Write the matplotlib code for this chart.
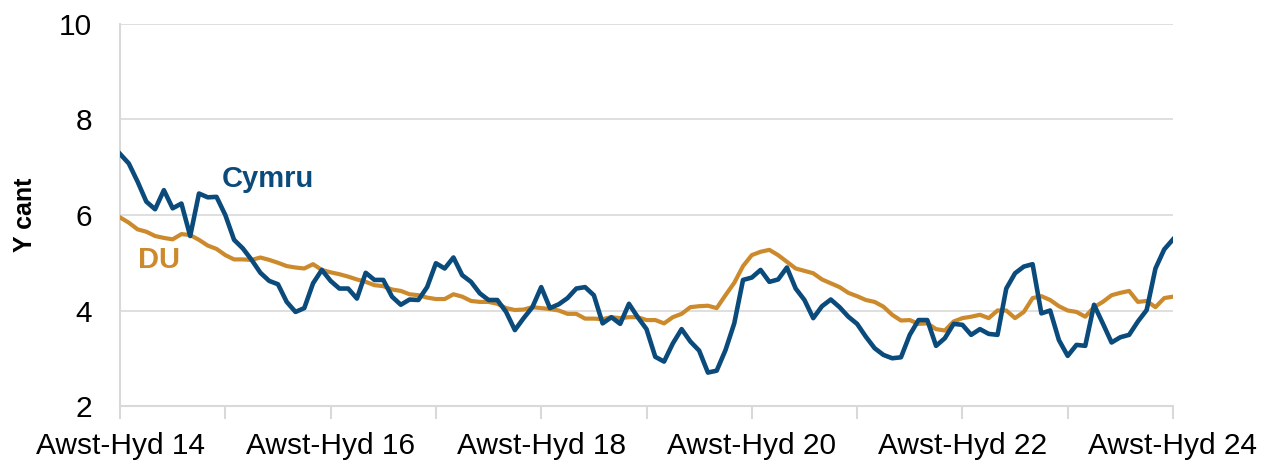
import matplotlib
matplotlib.use("Agg")
import matplotlib.pyplot as plt
import numpy as np

plt.rcParams['font.family'] = ['Liberation Sans', 'DejaVu Sans']

# 3-month rolling rate, Aug-Oct 2014 .. Aug-Oct 2024 (monthly)
cymru = [7.28, 7.08, 6.70, 6.28, 6.12, 6.52, 6.14, 6.24, 5.56, 6.45, 6.37, 6.38,
         6.00, 5.48, 5.30, 5.06, 4.79, 4.62, 4.55, 4.18, 3.97, 4.05, 4.57, 4.85,
         4.62, 4.46, 4.46, 4.25, 4.79, 4.64, 4.64, 4.29, 4.12, 4.23, 4.22, 4.49,
         4.99, 4.88, 5.11, 4.74, 4.60, 4.36, 4.22, 4.22, 3.97, 3.59, 3.84, 4.07,
         4.49, 4.05, 4.13, 4.26, 4.46, 4.49, 4.32, 3.73, 3.86, 3.72, 4.14, 3.86,
         3.61, 3.03, 2.93, 3.31, 3.61, 3.35, 3.16, 2.70, 2.74, 3.17, 3.73, 4.64,
         4.69, 4.85, 4.60, 4.65, 4.90, 4.46, 4.22, 3.84, 4.09, 4.23, 4.07, 3.87,
         3.72, 3.45, 3.21, 3.07, 3.00, 3.02, 3.49, 3.80, 3.80, 3.26, 3.42, 3.72,
         3.70, 3.49, 3.61, 3.51, 3.49, 4.46, 4.78, 4.92, 4.97, 3.94, 4.00, 3.38,
         3.05, 3.28, 3.26, 4.12, 3.73, 3.33, 3.44, 3.49, 3.77, 4.01, 4.88, 5.28,
         5.49]
du = [5.95, 5.84, 5.70, 5.65, 5.56, 5.52, 5.49, 5.60, 5.58, 5.48, 5.36, 5.29,
      5.16, 5.07, 5.07, 5.06, 5.11, 5.06, 5.00, 4.93, 4.90, 4.88, 4.97, 4.85,
      4.80, 4.76, 4.71, 4.65, 4.60, 4.53, 4.51, 4.44, 4.41, 4.34, 4.32, 4.27,
      4.24, 4.24, 4.34, 4.29, 4.20, 4.18, 4.18, 4.14, 4.05, 4.01, 4.02, 4.07,
      4.05, 4.03, 4.00, 3.93, 3.93, 3.83, 3.83, 3.82, 3.86, 3.84, 3.86, 3.86,
      3.80, 3.80, 3.73, 3.86, 3.93, 4.07, 4.09, 4.10, 4.05, 4.32, 4.58, 4.93,
      5.16, 5.23, 5.27, 5.16, 5.02, 4.88, 4.83, 4.78, 4.65, 4.57, 4.49, 4.37,
      4.30, 4.22, 4.18, 4.08, 3.91, 3.79, 3.80, 3.72, 3.73, 3.61, 3.58, 3.77,
      3.84, 3.87, 3.91, 3.84, 4.00, 4.00, 3.84, 3.97, 4.26, 4.30, 4.22, 4.09,
      4.00, 3.97, 3.87, 4.07, 4.18, 4.32, 4.37, 4.41, 4.18, 4.20, 4.07, 4.26,
      4.29]
tick_labels = ["Awst-Hyd 14", "", "Awst-Hyd 16", "", "Awst-Hyd 18", "",
               "Awst-Hyd 20", "", "Awst-Hyd 22", "", "Awst-Hyd 24"]

BLUE = "#0b4b7c"
ORANGE = "#cc8a2c"
GRID = "#d9d9d9"

x = np.arange(len(cymru))

fig = plt.figure(figsize=(12.73, 4.61), dpi=100)
ax = fig.add_axes([120 / 1273, 55 / 461, 1053 / 1273, 382 / 461])

ax.plot(x, du, color=ORANGE, lw=3.0, solid_joinstyle='round', zorder=3)
ax.plot(x, cymru, color=BLUE, lw=3.3, solid_joinstyle='round', zorder=4)

ax.set_xlim(0, len(cymru) - 1)
ax.set_ylim(2, 10)
ax.set_yticks([2, 4, 6, 8, 10])
ax.set_xticks(np.arange(0, len(cymru), 12))
ax.set_xticklabels(tick_labels)

ax.grid(axis='y', color=GRID, lw=1.2, zorder=0)
for s in ['top', 'right']:
    ax.spines[s].set_visible(False)
for s in ['left', 'bottom']:
    ax.spines[s].set_color(GRID)
    ax.spines[s].set_linewidth(1.5)

ax.tick_params(axis='y', length=0, pad=20, labelsize=21.5, labelcolor='black')
ax.tick_params(axis='x', length=9, width=1.5, color=GRID, pad=10,
               labelsize=21.5, labelcolor='black')

ax.set_ylabel("Y cant", fontsize=18, fontweight='bold')
ax.yaxis.set_label_coords(-83 / 1053, 0.5)

ax.text(268 / 1273, 1 - 179 / 461, "Cymru", transform=fig.transFigure,
        color=BLUE, fontsize=21, fontweight='bold', ha='center', va='center')
ax.text(159 / 1273, 1 - 260 / 461, "DU", transform=fig.transFigure,
        color=ORANGE, fontsize=21, fontweight='bold', ha='center', va='center')

fig.savefig("out.png", dpi=100)
